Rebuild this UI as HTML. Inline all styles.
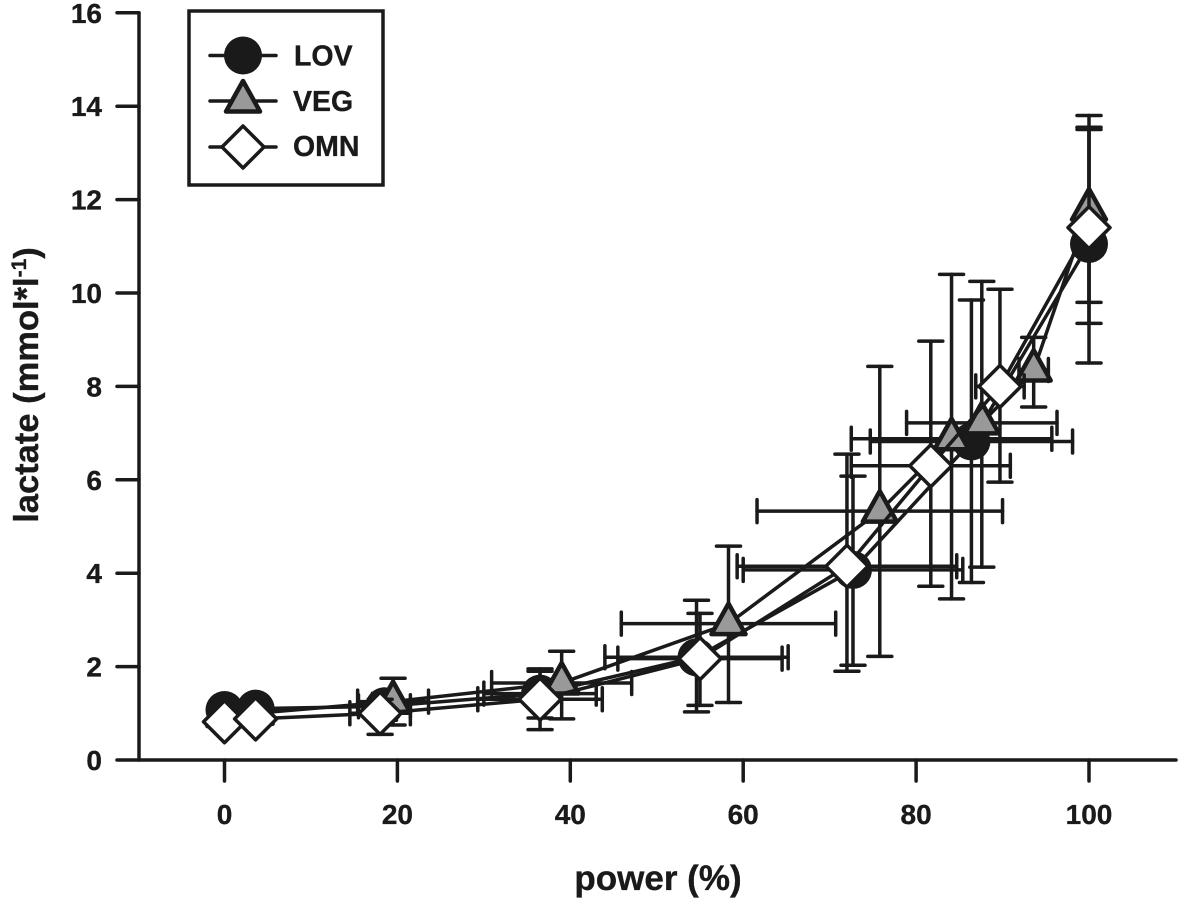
<!DOCTYPE html>
<html lang="en">
<head>
<meta charset="utf-8">
<title>Lactate vs power chart</title>
<style>
html,body{margin:0;padding:0;background:#fff;}
svg{display:block;font-family:"Liberation Sans",sans-serif;font-weight:bold;fill:#1a1a1a;}
svg text{stroke:#1a1a1a;stroke-width:0.35px;}
</style>
</head>
<body>
<svg id="chart" width="1181" height="898" viewBox="0 0 1181 898" xmlns="http://www.w3.org/2000/svg">
  <rect x="0" y="0" width="1181" height="898" fill="#fff"></rect>
  <g id="series-layer"></g>
  <g id="axes-layer"></g>
  <text x="658" y="890" text-anchor="middle" font-size="35">power (%)</text>
  <text transform="translate(38,385) rotate(-90)" text-anchor="middle" font-size="34.5">lactate (mmol*l<tspan font-size="21" dy="-12">-1</tspan><tspan dy="12">)</tspan></text>
  <g>
    <rect x="189" y="11" width="194" height="174" fill="#fff" stroke="#1a1a1a" stroke-width="3.5"></rect>
    <g>
      <line x1="210" x2="276" y1="55.5" y2="55.5" stroke="#1a1a1a" stroke-width="3.5" stroke-linecap="round"></line>
      <circle cx="243" cy="55.5" r="19" fill="#1a1a1a"></circle>
      <text x="294" y="65.5" font-size="28.5">LOV</text>
    </g>
    <g>
      <line x1="210" x2="276" y1="101" y2="101" stroke="#1a1a1a" stroke-width="3.5" stroke-linecap="round"></line>
      <path d="M243 81 L260 111.5 L226 111.5 Z" fill="#999" stroke="#1a1a1a" stroke-width="4.5" stroke-linejoin="round"></path>
      <text x="293" y="111" font-size="28.5">VEG</text>
    </g>
    <g>
      <line x1="210" x2="276" y1="147" y2="147" stroke="#1a1a1a" stroke-width="3.5" stroke-linecap="round"></line>
      <path d="M243 126 L264 147 L243 168 L222 147 Z" fill="#fff" stroke="#1a1a1a" stroke-width="3.5" stroke-linejoin="round"></path>
      <text x="293" y="156" font-size="28.5">OMN</text>
    </g>
  </g>
</svg>
<script>
const xTicks = [0, 20, 40, 60, 80, 100];
const yTicks = [0, 2, 4, 6, 8, 10, 12, 14, 16];

const lovX = [0, 3.6, 18.5, 36.5, 54.6, 72.7, 86.4, 100];
const lovY = [1.07, 1.1, 1.15, 1.42, 2.2, 4.07, 6.82, 11.05];
const lovXErr = [0, 0.5, 3, 6.5, 10.6, 12.7, 11.7, 0];
const lovYUp = [1.2, 1.25, 1.43, 1.9, 3.42, 6.08, 9.85, 13.55];
const lovYLow = [0.9, 0.9, 0.85, 0.9, 1.03, 2.03, 3.8, 8.5];

const vegX = [0, 3.6, 19.5, 39, 58.3, 75.8, 84.1, 87.6, 93.6, 100];
const vegY = [0.95, 1, 1.25, 1.65, 2.92, 5.33, 6.88, 7.22, 8.35, 11.8];
const vegXErr = [0, 0.5, 4.1, 8.1, 12.4, 14.2, 11.6, 8.7, 1.7, 0];
const vegYUp = [1.1, 1.2, 1.75, 2.33, 4.58, 8.43, 10.4, 10.25, 9.05, 13.8];
const vegYLow = [0.8, 0.85, 0.75, 0.88, 1.23, 2.22, 3.45, 4.13, 7.56, 9.8];

const omnX = [0, 3.6, 18, 36.5, 55, 72, 81.7, 89.7, 100];
const omnY = [0.82, 0.88, 1, 1.3, 2.17, 4.15, 6.3, 8, 11.4];
const omnXErr = [0, 0.5, 3.5, 7.2, 9.5, 12.7, 9.2, 2.8, 0];
const omnYUp = [1, 1.05, 1.3, 1.95, 3.14, 6.55, 8.97, 10.08, 13.5];
const omnYLow = [0.7, 0.75, 0.55, 0.65, 1.17, 1.9, 3.72, 5.95, 9.35];

const NS = 'http://www.w3.org/2000/svg';
const INK = '#1a1a1a';
function sx(v) { return 224.5 + v * 8.645; }
function sy(v) { return 760 - v * 46.7; }

function mk(parent, tag, attrs) {
  const el = document.createElementNS(NS, tag);
  for (const k in attrs) el.setAttribute(k, attrs[k]);
  parent.appendChild(el);
  return el;
}
function seg(parent, x1, y1, x2, y2, w) {
  return mk(parent, 'line', { x1: x1, y1: y1, x2: x2, y2: y2, stroke: INK, 'stroke-width': w, 'stroke-linecap': 'round' });
}

const axes = document.getElementById('axes-layer');
const xAxisLine = seg(axes, 139, 760, 1176, 760, 3.5);


const yAxisLine = seg(axes, 139, 13, 139, 760, 3.5);



xTicks.forEach(function (t) {
  const tick = seg(axes, sx(t), 760, sx(t), 781, 3.5);
  
  
  const label = mk(axes, 'text', { x: sx(t), y: 824, 'text-anchor': 'middle', 'font-size': 28 });
  
  
  label.textContent = t;
});
yTicks.forEach(function (t) {
  const tick = seg(axes, 117, sy(t), 139, sy(t), 3.5);
  
  
  const label = mk(axes, 'text', { x: 102, y: sy(t) + 10, 'text-anchor': 'end', 'font-size': 28 });
  
  
  label.textContent = t;
});

const layer = document.getElementById('series-layer');

function drawLine(g, xs, ys) {
  const pts = xs.map(function (x, i) { return sx(x) + ',' + sy(ys[i]); }).join(' ');
  const line = mk(g, 'polyline', { points: pts, fill: 'none', stroke: INK, 'stroke-width': 3.5, 'stroke-linejoin': 'round' });
  
  
}
function drawErrors(g, xs, ys, xe, up, low) {
  xs.forEach(function (x, i) {
    const px = sx(x), py = sy(ys[i]);
    const eg = mk(g, 'g', {});
    
    
    seg(eg, px, sy(up[i]), px, sy(low[i]), 3.5);
    seg(eg, px - 12, sy(up[i]), px + 12, sy(up[i]), 3.5);
    seg(eg, px - 12, sy(low[i]), px + 12, sy(low[i]), 3.5);
    if (xe[i] > 0) {
      const l = sx(x - xe[i]), r = sx(x + xe[i]);
      seg(eg, l, py, r, py, 3.5);
      seg(eg, l, py - 11.5, l, py + 11.5, 3.5);
      seg(eg, r, py - 11.5, r, py + 11.5, 3.5);
    }
  });
}

const lovGroup = mk(layer, 'g', {});


const vegGroup = mk(layer, 'g', {});


const omnGroup = mk(layer, 'g', {});



drawErrors(lovGroup, lovX, lovY, lovXErr, lovYUp, lovYLow);
drawLine(lovGroup, lovX, lovY);
lovX.forEach(function (x, i) {
  const m = mk(lovGroup, 'circle', { cx: sx(x), cy: sy(lovY[i]), r: 19, fill: INK });
  
  
});

drawErrors(vegGroup, vegX, vegY, vegXErr, vegYUp, vegYLow);
drawLine(vegGroup, vegX, vegY);
vegX.forEach(function (x, i) {
  const px = sx(x), py = sy(vegY[i]);
  const d = 'M' + px + ' ' + (py - 20) + ' L' + (px + 17) + ' ' + (py + 10.5) + ' L' + (px - 17) + ' ' + (py + 10.5) + ' Z';
  const m = mk(vegGroup, 'path', { d: d, fill: '#999', stroke: INK, 'stroke-width': 4.5, 'stroke-linejoin': 'round' });
  
  
});

drawErrors(omnGroup, omnX, omnY, omnXErr, omnYUp, omnYLow);
drawLine(omnGroup, omnX, omnY);
omnX.forEach(function (x, i) {
  const px = sx(x), py = sy(omnY[i]);
  const d = 'M' + px + ' ' + (py - 21) + ' L' + (px + 21) + ' ' + py + ' L' + px + ' ' + (py + 21) + ' L' + (px - 21) + ' ' + py + ' Z';
  const m = mk(omnGroup, 'path', { d: d, fill: '#fff', stroke: INK, 'stroke-width': 3.5, 'stroke-linejoin': 'round' });
  
  
});
</script>
</body>
</html>
